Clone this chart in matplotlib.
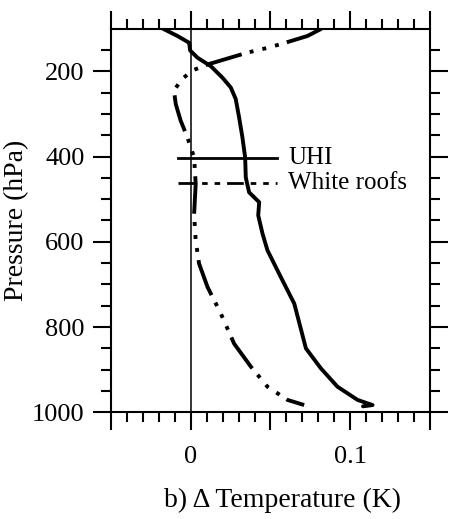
import matplotlib
matplotlib.use("Agg")
import matplotlib.pyplot as plt
from matplotlib.ticker import FixedLocator, FixedFormatter

plt.rcParams['font.family'] = ['Liberation Serif', 'DejaVu Serif']
plt.rcParams['lines.scale_dashes'] = False

# UHI (solid)
uhi_p = [100, 117, 133, 151, 168, 188, 215, 238, 265, 308, 355, 402, 449, 484,
         507, 538, 581, 620, 683, 745, 850, 897, 940, 971, 983, 986]
uhi_t = [-0.0174, -0.0084, -0.0010, -0.0004, 0.0042, 0.0126, 0.0199, 0.0251,
         0.0282, 0.0303, 0.0324, 0.0341, 0.0345, 0.0366, 0.0429, 0.0423, 0.0450,
         0.0481, 0.0565, 0.0649, 0.0722, 0.0816, 0.0920, 0.1046, 0.1140, 0.1080]

# White roofs (dash-dot)
wr_p = [100, 117, 135, 145, 156, 170, 184, 198, 221, 246, 277, 316, 355, 402,
        464, 535, 597, 651, 706, 768, 839, 893, 940, 971, 983]
wr_t = [0.0820, 0.0732, 0.0575, 0.0481, 0.0356, 0.0230, 0.0105, 0.0010,
        -0.0063, -0.0105, -0.0094, -0.0063, -0.0021, 0.0021, 0.0031, 0.0021,
        0.0031, 0.0052, 0.0105, 0.0188, 0.0272, 0.0377, 0.0481, 0.0607, 0.0711]

x_major = [-0.05, 0.0, 0.05, 0.1, 0.15]
x_labels = ['', '0', '', '0.1', '']
y_major = [200, 400, 600, 800, 1000]
y_labels = ['200', '400', '600', '800', '1000']

fig = plt.figure(figsize=(4.52, 5.19), dpi=100)
ax = fig.add_axes([0.2456, 0.2056, 0.7057, 0.7391])

ax.axvline(0, color='black', lw=1.1, zorder=1)
dash = (0, (27, 6, 2.8, 6.6, 2.8, 6.6, 2.8, 6))
ax.plot(uhi_t, uhi_p, color='black', lw=2.8, solid_capstyle='round',
        solid_joinstyle='round', zorder=3)
ax.plot(wr_t, wr_p, color='black', lw=2.8, linestyle=dash, dash_capstyle='butt',
        dash_joinstyle='round', zorder=3)

ax.set_xlim(-0.05, 0.15)
ax.set_ylim(1000, 100)

ax.xaxis.set_major_locator(FixedLocator(x_major))
ax.xaxis.set_major_formatter(FixedFormatter(x_labels))
ax.xaxis.set_minor_locator(FixedLocator([i / 100 for i in range(-5, 16)]))
ax.yaxis.set_major_locator(FixedLocator(y_major))
ax.yaxis.set_major_formatter(FixedFormatter(y_labels))
ax.yaxis.set_minor_locator(FixedLocator(list(range(150, 1000, 50))))

ax.tick_params(which='both', direction='out', top=True, right=True, width=1.5,
               labelsize=19, colors='black')
ax.tick_params(axis='x', which='major', length=13, pad=11)
ax.tick_params(axis='y', which='major', length=13, pad=6)
ax.tick_params(which='minor', length=7)
for s in ax.spines.values():
    s.set_linewidth(1.5)

# legend
ax.plot([0.21, 0.52], [0.663, 0.663], transform=ax.transAxes, color='black', lw=2, clip_on=False)
ax.plot([0.21, 0.52], [0.598, 0.598], transform=ax.transAxes, color='black', lw=2,
        linestyle=(0, (12, 5, 4, 5, 4, 5)), clip_on=False)
ax.text(0.555, 0.663, 'UHI', transform=ax.transAxes, fontsize=18, va='center', ha='left')
ax.text(0.555, 0.598, 'White roofs', transform=ax.transAxes, fontsize=18, va='center', ha='left')

ax.set_ylabel('Pressure (hPa)', fontsize=20, labelpad=2)
fig.text(283 / 452, 1 - 500 / 519, 'b) Δ Temperature (K)', fontsize=20, ha='center', va='center')

fig.savefig('out.png', dpi=100)
